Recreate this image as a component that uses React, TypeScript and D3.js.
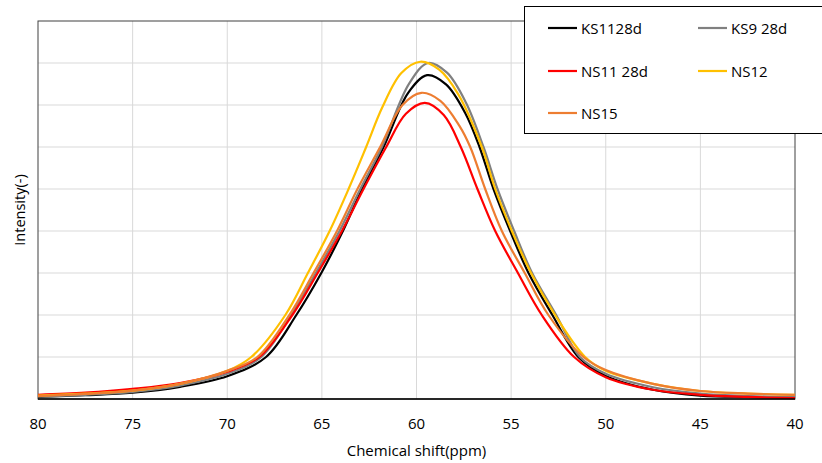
import React, { useEffect, useRef } from "react";
import * as d3 from "d3";

// ppm ticks on the reversed x axis
const xTicks = [80, 75, 70, 65, 60, 55, 50, 45, 40];
const yGridCount = 9; // horizontal grid lines, no labels in original

const seriesNames = ["KS1128d", "KS9 28d", "NS11 28d", "NS12", "NS15"];
const seriesColors = ["#000000", "#808080", "#FF0000", "#FFC000", "#ED7D31"];

// [ppm, intensity]
const ks1128d: [number, number][] = [
  [80, 0.05], [77.5, 0.09], [75, 0.15], [72.5, 0.29], [70, 0.54], [67.95, 1], [66.35, 2],
  [65.03, 3], [63.89, 4], [62.88, 5], [61.74, 6], [60.44, 7.29], [59.44, 7.71], [58.44, 7.49],
  [57.44, 6.82], [56.67, 6], [55.93, 5], [55.05, 4], [54.08, 3], [52.82, 2], [51.45, 1],
  [50, 0.55], [47.5, 0.22], [45, 0.08], [42.5, 0.05], [40, 0.04],
];
const ks928d: [number, number][] = [
  [80, 0.06], [77.5, 0.1], [75, 0.17], [72.5, 0.32], [70, 0.6], [68.2, 1], [66.62, 2],
  [65.32, 3], [64.07, 4], [62.97, 5], [61.83, 6], [60.39, 7.51], [59.39, 8.0], [58.39, 7.77],
  [57.39, 7.06], [56.46, 6], [55.72, 5], [54.84, 4], [53.89, 3], [52.62, 2], [51.36, 1],
  [50, 0.6], [47.5, 0.28], [45, 0.13], [42.5, 0.07], [40, 0.05],
];
const ns1128d: [number, number][] = [
  [80, 0.1], [77.5, 0.15], [75, 0.24], [72.5, 0.38], [70, 0.65], [68.31, 1], [66.56, 2],
  [65.22, 3], [63.94, 4], [62.8, 5], [61.6, 6], [60.56, 6.79], [59.56, 7.05], [58.56, 6.76],
  [57.66, 6], [56.78, 5], [55.84, 4], [54.64, 3], [53.38, 2], [51.67, 1], [50, 0.52],
  [47.5, 0.22], [45, 0.1], [42.5, 0.05], [40, 0.02],
];
const ns12: [number, number][] = [
  [80, 0.08], [77.5, 0.13], [75, 0.2], [72.5, 0.36], [70, 0.67], [68.73, 1], [66.93, 2],
  [65.74, 3], [64.59, 4], [63.59, 5], [62.66, 6], [61.8, 6.95], [60.8, 7.76], [59.8, 8.03],
  [58.8, 7.84], [57.8, 7.26], [56.55, 6], [55.84, 5], [54.96, 4], [53.95, 3], [52.68, 2],
  [51.09, 1], [50, 0.67], [47.5, 0.36], [45, 0.19], [42.5, 0.13], [40, 0.1],
];
const ns15: [number, number][] = [
  [80, 0.07], [77.5, 0.12], [75, 0.2], [72.5, 0.36], [70, 0.67], [68.41, 1], [66.72, 2],
  [65.44, 3], [64.2, 4], [63.12, 5], [61.92, 6], [60.74, 7.0], [59.74, 7.29], [58.74, 7.1],
  [57.74, 6.51], [57.16, 6], [56.37, 5], [55.49, 4], [54.28, 3], [53.03, 2], [51.18, 1],
  [50, 0.69], [47.5, 0.36], [45, 0.19], [42.5, 0.13], [40, 0.1],
];
const seriesData = [ks1128d, ks928d, ns1128d, ns12, ns15];

const W = 822, H = 463;
const margin = { top: 21, right: 27, bottom: 64, left: 38 };
const font = "'Open Sans', Lato, sans-serif";

export default function App() {
  const ref = useRef<SVGSVGElement>(null);

  useEffect(() => {
    const svg = d3.select(ref.current);
    svg.selectAll("*").remove();
    const width = W - margin.left - margin.right;
    const height = H - margin.top - margin.bottom;

    const x = d3.scaleLinear().domain([80, 40]).range([0, width]);
    const y = d3.scaleLinear().domain([0, yGridCount]).range([height, 0]);

    const g = svg.append("g").attr("transform", `translate(${margin.left},${margin.top})`);

    // grid
    g.append("g")
      .selectAll("line")
      .data(d3.range(1, yGridCount))
      .enter()
      .append("line")
      .attr("x1", 0).attr("x2", width)
      .attr("y1", (d) => y(d)).attr("y2", (d) => y(d))
      .attr("stroke", "#D9D9D9").attr("stroke-width", 1);
    g.append("g")
      .selectAll("line")
      .data(xTicks.slice(1, -1))
      .enter()
      .append("line")
      .attr("x1", (d) => x(d)).attr("x2", (d) => x(d))
      .attr("y1", 0).attr("y2", height)
      .attr("stroke", "#D9D9D9").attr("stroke-width", 1);

    // plot border
    g.append("rect")
      .attr("x", 0).attr("y", 0).attr("width", width).attr("height", height)
      .attr("fill", "none").attr("stroke", "#404040").attr("stroke-width", 1);

    // curves
    const line = d3
      .line<[number, number]>()
      .x((d) => x(d[0]))
      .y((d) => y(d[1]))
      .curve(d3.curveCatmullRom.alpha(0.5));

    seriesData.forEach((s, i) => {
      g.append("path")
        .attr("d", line(s))
        .attr("fill", "none")
        .attr("stroke", seriesColors[i])
        .attr("stroke-width", 2.2);
    });

    // bottom axis line
    g.append("line")
      .attr("x1", 0).attr("x2", width).attr("y1", height).attr("y2", height)
      .attr("stroke", "#000").attr("stroke-width", 1.5);

    // x tick labels
    g.append("g")
      .selectAll("text")
      .data(xTicks)
      .enter()
      .append("text")
      .attr("x", (d) => x(d))
      .attr("y", height + 30)
      .attr("text-anchor", "middle")
      .attr("font-family", font)
      .attr("font-size", 15)
      .attr("fill", "#000")
      .text((d) => d);

    // axis titles
    svg.append("text")
      .attr("x", margin.left + width / 2)
      .attr("y", 456)
      .attr("text-anchor", "middle")
      .attr("font-family", font)
      .attr("font-size", 15)
      .text("Chemical shift(ppm)");
    svg.append("text")
      .attr("transform", `translate(25,${margin.top + height / 2})rotate(-90)`)
      .attr("text-anchor", "middle")
      .attr("font-family", font)
      .attr("font-size", 14.5)
      .text("Intensity(-)");

    // legend
    const lg = svg.append("g");
    lg.append("rect")
      .attr("x", 524.5).attr("y", 6.5).attr("width", 320).attr("height", 127)
      .attr("fill", "#fff").attr("stroke", "#000").attr("stroke-width", 1);
    const cols = [548, 698];
    const rows = [28, 71, 113];
    seriesNames.forEach((name, i) => {
      const cx = cols[i % 2];
      const cy = rows[Math.floor(i / 2)];
      lg.append("line")
        .attr("x1", cx).attr("x2", cx + 29).attr("y1", cy).attr("y2", cy)
        .attr("stroke", seriesColors[i]).attr("stroke-width", 2.2);
      lg.append("text")
        .attr("x", cx + 33).attr("y", cy + 5.5)
        .attr("font-family", font)
        .attr("font-size", 15)
        .text(name);
    });
  }, []);

  return (
    <svg
      ref={ref}
      width={W}
      height={H}
      style={{ position: "absolute", left: 0, top: 0, background: "#fff" }}
    />
  );
}
